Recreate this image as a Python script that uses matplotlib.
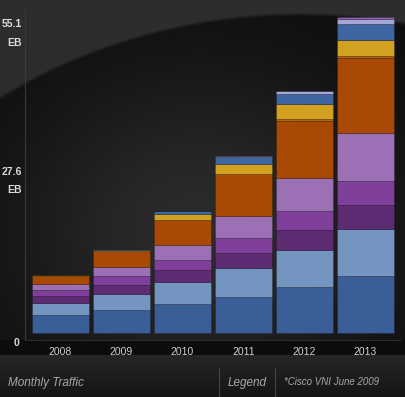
import numpy as np
import matplotlib.pyplot as plt

plt.rcParams['font.family'] = ['Liberation Sans', 'DejaVu Sans']

years = ['2008', '2009', '2010', '2011', '2012', '2013']
# segments bottom -> top, exabytes per month
dark_blue    = [3.20, 4.06, 5.00, 6.28, 7.95, 9.87]
light_blue   = [2.02, 2.79, 3.89, 5.06, 6.45, 8.27]
dark_purple  = [1.17, 1.57, 2.04, 2.67, 3.49, 4.12]
mid_purple   = [1.17, 1.45, 1.87, 2.56, 3.31, 4.18]
lavender     = [0.90, 1.65, 2.62, 3.84, 5.82, 8.44]
orange       = [1.55, 2.70, 4.36, 7.27, 9.99, 13.08]
orange_thin  = [0.00, 0.00, 0.00, 0.10, 0.25, 0.35]
yellow       = [0.12, 0.30, 0.92, 1.74, 2.62, 2.84]
top_blue     = [0.06, 0.20, 0.52, 1.17, 1.80, 2.79]
pale_lav     = [0.00, 0.00, 0.00, 0.10, 0.42, 0.82]
top_purple   = [0.00, 0.00, 0.00, 0.00, 0.10, 0.35]
y_ticks = [0, 27.6, 55.1]

series = [dark_blue, light_blue, dark_purple, mid_purple, lavender, orange,
          orange_thin, yellow, top_blue, pale_lav, top_purple]
colors = ['#3a5e98', '#7595c1', '#5d2c73', '#7f3f9b', '#9b70b5', '#a84a05',
          '#b8620f', '#d3a121', '#3e66a2', '#a3a6d6', '#9464b4']

W, H = 406, 397
fig = plt.figure(figsize=(W / 100, H / 100), dpi=100)
fig.patch.set_facecolor('#111111')

# background: grey top, dark elliptical stage with a soft glow, footer band
yy, xx = np.mgrid[0:H, 0:W].astype(float)
bg = 0.18 - 0.03 * yy / H
ell = ((xx - 300) / 512) ** 2 + ((yy - 450) / 438) ** 2
inside = np.clip((1 - ell) * 60, 0, 1)
glow = 0.05 + 0.12 * np.exp(-(((xx - 200) / 190) ** 2 + ((yy - 230) / 160) ** 2))
bg = bg * (1 - inside) + glow * inside
bg[340:355] = 0.05
foot = (yy >= 355)
bg[foot] = (0.15 - 0.07 * (yy[foot] - 355) / 42)
bgax = fig.add_axes([0, 0, 1, 1], zorder=0)
bgax.imshow(np.dstack([bg, bg, bg]), aspect='auto', extent=[0, W, H, 0])
bgax.set_xlim(0, W)
bgax.set_ylim(H, 0)
bgax.axis('off')
bgax.plot([219, 219], [368, 397], color='#444444', lw=0.8)
bgax.plot([275, 275], [368, 397], color='#444444', lw=0.8)
bgax.text(8, 383, 'Monthly Traffic', color='#a8a8a8', fontsize=8.5, style='italic', va='center')
bgax.text(228, 383, 'Legend', color='#a8a8a8', fontsize=8.5, style='italic', va='center')
bgax.text(284, 382, '*Cisco VNI June 2009', color='#a8a8a8', fontsize=7, style='italic', va='center')

ax = fig.add_axes([25 / W, (H - 340) / H, 375 / W, 330 / H], zorder=1)
ax.patch.set_alpha(0)
x = np.arange(len(years))
bottom = np.zeros(len(years))
for vals, c in zip(series, colors):
    ax.bar(x, vals, width=0.935, bottom=bottom, color=c,
           edgecolor=(0, 0, 0, 0.25), linewidth=0.5)
    bottom += np.array(vals)

ax.set_xlim(-0.582, 5.566)
ax.set_ylim(-1.22, 56.3)
ax.set_xticks(x)
ax.set_xticklabels(years)
ax.tick_params(axis='x', length=0, pad=5, colors='#d0d0d0', labelsize=7.5)
ax.set_yticks([])
for s in ['top', 'right']:
    ax.spines[s].set_visible(False)
ax.spines['left'].set_color('#3a3a3a')
ax.spines['bottom'].set_color('#2c2c2c')
ax.spines['left'].set_linewidth(0.8)

lab = dict(color='#dcdcdc', fontsize=7.5, fontweight='bold', ha='right',
           xycoords=('axes fraction', 'data'), textcoords='offset points')
ax.annotate('%g' % y_ticks[2], (-0.008, y_ticks[2]), xytext=(0, -5), va='center', **lab)
ax.annotate('EB', (-0.008, y_ticks[2]), xytext=(0, -19), va='center', **lab)
ax.annotate('%g' % y_ticks[1], (-0.008, y_ticks[1]), xytext=(0, 2), va='center', **lab)
ax.annotate('EB', (-0.008, y_ticks[1]), xytext=(0, -11), va='center', **lab)
ax.annotate('%g' % y_ticks[0], (-0.015, y_ticks[0]), xytext=(0, -7), va='center', **lab)

fig.savefig('out.png', dpi=100, facecolor=fig.get_facecolor())
